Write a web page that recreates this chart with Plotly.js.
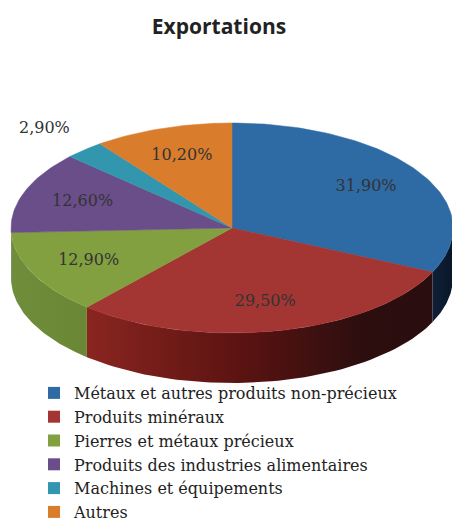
<!DOCTYPE html>
<html>
<head>
<meta charset="utf-8">
<script src="https://cdn.plot.ly/plotly-3.0.1.min.js"></script>
<style>html,body{margin:0;padding:0;background:#fff;}#chart{width:452px;height:527px;}</style>
</head>
<body>
<div id="chart"></div>
<script>
// ---- data ----
const categories = [
  "Métaux et autres produits non-précieux",
  "Produits minéraux",
  "Pierres et métaux précieux",
  "Produits des industries alimentaires",
  "Machines et équipements",
  "Autres"
];
const shares = [31.9, 29.5, 12.9, 12.6, 2.9, 10.2];
const valueLabels = ["31,90%", "29,50%", "12,90%", "12,60%", "2,90%", "10,20%"];
const chartTitle = "Exportations";

// ---- style ----
const topColors  = ["#2E6AA3", "#A33533", "#82A040", "#6A4E8A", "#3196AE", "#D97D2D"];
const sideColors = [
  [[0, "#0e2038"], [1, "#0a1628"]],
  [[0, "#8A2520"], [0.45, "#5a1311"], [0.8, "#2c0e0f"], [1, "#2a0d0e"]],
  [[0, "#6f8d3a"], [1, "#698735"]],
  [[0, "#5a4176"], [1, "#5a4176"]],
  [[0, "#2a7f94"], [1, "#2a7f94"]],
  [[0, "#b96a26"], [1, "#b96a26"]]
];
const W = 452, H = 527;
const cx = 232, cy = 228, rx = 221, ry = 105, depth = 50;
const serif = "DejaVu Serif, serif";

const total = shares.reduce((a, b) => a + b, 0);
const ang = [0];
shares.forEach((v, i) => ang.push(ang[i] + v / total * 2 * Math.PI));
const px = t => cx + rx * Math.sin(t);
const py = (t, d) => cy - ry * Math.cos(t) + (d || 0);

const traces = [];
// sides (front half only: angle PI/2 .. 3PI/2)
shares.forEach((v, i) => {
  const a0 = Math.max(ang[i], Math.PI / 2), a1 = Math.min(ang[i + 1], 3 * Math.PI / 2);
  if (a1 <= a0) return;
  const xs = [], ys = [], n = 60;
  for (let k = 0; k <= n; k++) { const t = a0 + (a1 - a0) * k / n; xs.push(px(t)); ys.push(py(t)); }
  for (let k = n; k >= 0; k--) { const t = a0 + (a1 - a0) * k / n; xs.push(px(t)); ys.push(py(t, depth)); }
  xs.push(xs[0]); ys.push(ys[0]);
  traces.push({
    type: "scatter", x: xs, y: ys, mode: "lines", fill: "toself",
    line: { width: 0, color: "rgba(0,0,0,0)" },
    fillgradient: { type: "horizontal", colorscale: sideColors[i] },
    hoverinfo: "skip", showlegend: false
  });
});
// top faces
shares.forEach((v, i) => {
  const xs = [cx], ys = [cy], n = Math.max(4, Math.ceil(v * 3));
  for (let k = 0; k <= n; k++) { const t = ang[i] + (ang[i + 1] - ang[i]) * k / n; xs.push(px(t)); ys.push(py(t)); }
  xs.push(cx); ys.push(cy);
  traces.push({
    type: "scatter", x: xs, y: ys, mode: "lines", fill: "toself",
    fillcolor: topColors[i], line: { width: 0.5, color: topColors[i] },
    name: categories[i], hoverinfo: "name", showlegend: false
  });
});
// labels
const lx = [], ly = [];
shares.forEach((v, i) => {
  const m = (ang[i] + ang[i + 1]) / 2;
  const r = v / total < 0.05 ? 1.27 : 0.72;
  lx.push(cx + r * rx * Math.sin(m));
  ly.push(cy - r * ry * Math.cos(m));
});
traces.push({
  type: "scatter", x: lx, y: ly, mode: "text", text: valueLabels,
  textfont: { family: serif, size: 16, color: "#333333" },
  hoverinfo: "skip", showlegend: false
});
// legend entries
categories.forEach((c, i) => {
  traces.push({
    type: "scatter", x: [null], y: [null], mode: "markers", name: c,
    marker: { symbol: "square", size: 12, color: topColors[i] },
    showlegend: true
  });
});

const layout = {
  width: W, height: H,
  margin: { l: 0, r: 0, t: 0, b: 0, autoexpand: false },
  paper_bgcolor: "#ffffff", plot_bgcolor: "#ffffff",
  xaxis: { range: [0, W], visible: false, fixedrange: true },
  yaxis: { range: [H, 0], visible: false, fixedrange: true },
  showlegend: true,
  title: {
    text: "<b>" + chartTitle + "</b>",
    font: { family: "Open Sans, sans-serif", size: 21, color: "#222222" },
    x: 219 / W, xanchor: "center", xref: "paper",
    y: 1 - 27 / H, yanchor: "middle", yref: "paper"
  },
  legend: {
    x: 34 / W, xanchor: "left", y: 1 - 376 / H, yanchor: "top",
    font: { family: serif, size: 16, color: "#222222" },
    bgcolor: "rgba(0,0,0,0)", tracegroupgap: 0, itemclick: false
  }
};
Plotly.newPlot("chart", traces, layout, { displayModeBar: false, staticPlot: true });
</script>
</body>
</html>
